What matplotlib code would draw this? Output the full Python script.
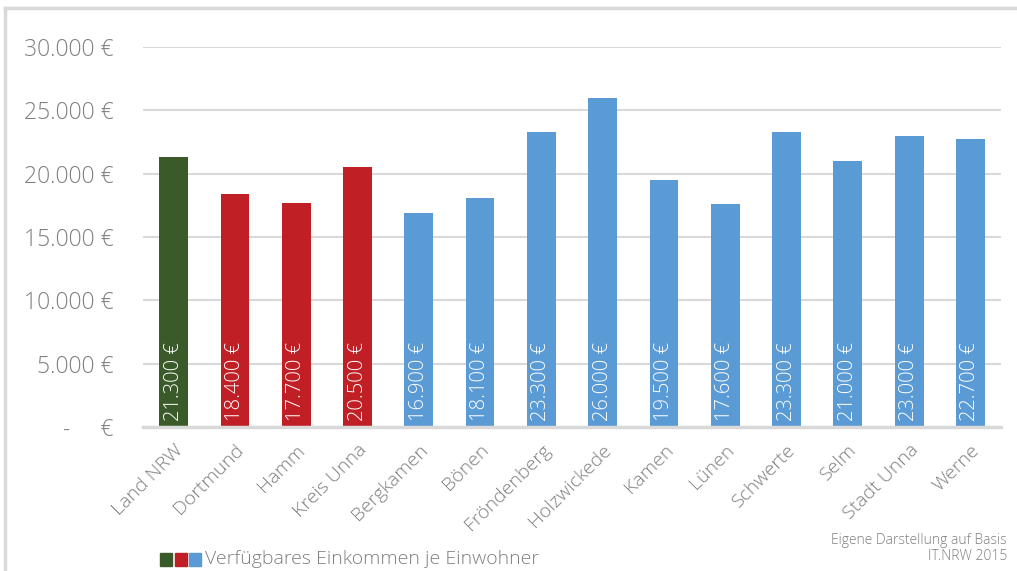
import matplotlib
matplotlib.use("Agg")
import matplotlib.pyplot as plt
from matplotlib.patches import Rectangle
from matplotlib.lines import Line2D
import numpy as np

# Verfügbares Einkommen je Einwohner (Euro)
orte = ["Land NRW", "Dortmund", "Hamm", "Kreis Unna", "Bergkamen", "Bönen",
        "Fröndenberg", "Holzwickede", "Kamen", "Lünen", "Schwerte", "Selm",
        "Stadt Unna", "Werne"]
einkommen = [21300, 18400, 17700, 20500, 16900, 18100, 23300, 26000,
             19500, 17600, 23300, 21000, 23000, 22700]
gruppe = ["land", "kreis", "kreis", "kreis"] + ["gemeinde"] * 10
y_ticks = [0, 5000, 10000, 15000, 20000, 25000, 30000]

farben = {"land": "#3B5A29", "kreis": "#C01F26", "gemeinde": "#5B9BD5"}
grau = "#7F7F7F"
linie = "#D9D9D9"

plt.rcParams["font.family"] = ["Open Sans", "DejaVu Sans"]
plt.rcParams["font.weight"] = "light"


def euro(v):
    if v == 0:
        return "-     €"
    return f"{v:,.0f}".replace(",", ".") + " €"


fig = plt.figure(figsize=(10.17, 5.71), dpi=100)
ax = fig.add_axes([0.1406, 0.2522, 0.8437, 0.6655])

x = np.arange(len(orte))
ax.bar(x, einkommen, width=0.47, color=[farben[g] for g in gruppe], zorder=3)

for xi, v in zip(x, einkommen):
    ax.text(xi, 450, euro(v), rotation=90, ha="center", va="bottom",
            color="white", fontsize=14.5, zorder=4)

ax.set_xlim(-0.5, len(orte) - 0.5)
ax.set_ylim(0, 30000)
ax.set_yticks(y_ticks)
ax.set_yticklabels([euro(v) for v in y_ticks], fontsize=16.5, color=grau)
ax.set_xticks(x)
ax.set_xticklabels(orte, rotation=45, ha="right", rotation_mode="anchor",
                   fontsize=14, color=grau)
ax.tick_params(axis="both", length=0)
ax.tick_params(axis="y", pad=21)
ax.tick_params(axis="x", pad=10)

ax.yaxis.grid(True, color=linie, linewidth=1.5, zorder=0)
ax.set_axisbelow(True)
for s in ["top", "right", "left"]:
    ax.spines[s].set_visible(False)
ax.spines["bottom"].set_color(linie)
ax.spines["bottom"].set_linewidth(2.5)
ax.spines["bottom"].set_zorder(5)

# Legende unten links
W, H = 1017, 571
for i, g in enumerate(["land", "kreis", "gemeinde"]):
    fig.patches.append(Rectangle(((160 + i * 14.5) / W, (H - 566) / H), 12 / W, 13 / H,
                                 transform=fig.transFigure, color=farben[g]))
fig.text(205 / W, (H - 559) / H, "Verfügbares Einkommen je Einwohner",
         fontsize=14, color=grau, va="center", ha="left")

# Quelle
fig.text(1007 / W, (H - 541) / H, "Eigene Darstellung auf Basis", fontsize=10,
         color=grau, ha="right", va="center")
fig.text(1007 / W, (H - 556) / H, "IT.NRW 2015", fontsize=10,
         color=grau, ha="right", va="center")

# Rahmen
fig.add_artist(Line2D([5 / W, 5 / W], [0, (H - 8) / H], color=linie, linewidth=2.5,
                      transform=fig.transFigure))
fig.add_artist(Line2D([5 / W, 1], [(H - 8) / H, (H - 8) / H], color=linie,
                      linewidth=2.5, transform=fig.transFigure))

fig.savefig("out.png", dpi=100, facecolor="white")
